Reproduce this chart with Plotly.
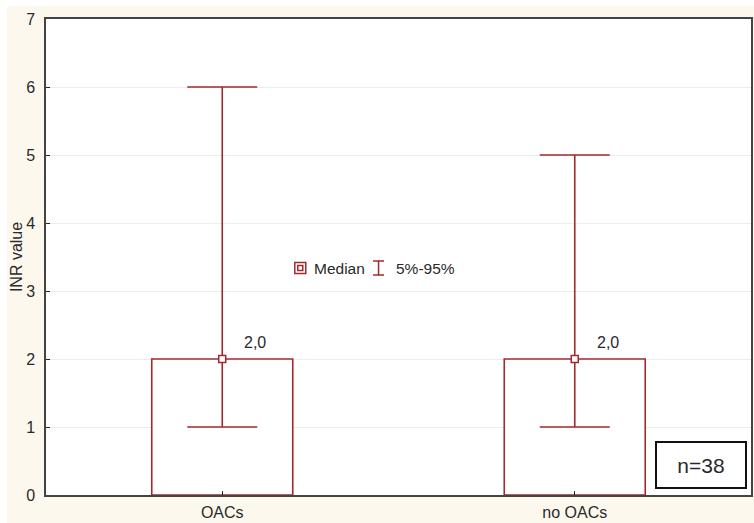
import plotly.graph_objects as go

categories = ["OACs", "no OACs"]
medians = [2.0, 2.0]
p5 = [1.0, 1.0]
p95 = [6.0, 5.0]
n_total = 38

RED = "#A3282E"
CREAM = "#FCF8EE"
FONT = "Liberation Sans, Arial, sans-serif"
TXT = "#2A2A2A"

fig = go.Figure()

fig.add_trace(go.Bar(
    x=categories, y=medians, width=0.4,
    marker=dict(color="white", line=dict(color=RED, width=1.6)),
    error_y=dict(type="data", symmetric=False,
                 array=[h - m for h, m in zip(p95, medians)],
                 arrayminus=[m - l for m, l in zip(medians, p5)],
                 color=RED, thickness=1.6, width=35),
    showlegend=False, hoverinfo="skip",
))
fig.add_trace(go.Scatter(
    x=categories, y=medians, mode="markers",
    marker=dict(symbol="square", size=7, color="white", line=dict(color=RED, width=1.5)),
    showlegend=False, hoverinfo="skip",
))

for c, m in zip(categories, medians):
    fig.add_annotation(x=c, y=m, text=f"{m:.1f}".replace(".", ","), showarrow=False,
                       xshift=33, yshift=17, font=dict(family=FONT, size=16, color=TXT))

def px_x(p):
    return (p - 46) / 707
def px_y(p):
    return (495 - p) / 476

shapes = []
shapes.append(dict(type="rect", xref="paper", yref="paper", x0=px_x(-5), x1=px_x(760),
                   y0=px_y(6), y1=px_y(-5), fillcolor="white", line=dict(width=0), layer="above"))
shapes.append(dict(type="rect", xref="paper", yref="paper", x0=px_x(-5), x1=px_x(7),
                   y0=px_y(530), y1=px_y(-5), fillcolor="white", line=dict(width=0), layer="above"))
shapes.append(dict(type="rect", xref="paper", yref="paper", x0=px_x(295.5), x1=px_x(306.5),
                   y0=px_y(273.5), y1=px_y(262.5), line=dict(color=RED, width=1.5), fillcolor="white"))
shapes.append(dict(type="rect", xref="paper", yref="paper", x0=px_x(298.5), x1=px_x(303.5),
                   y0=px_y(270.5), y1=px_y(265.5), line=dict(color=RED, width=1.5)))
shapes.append(dict(type="line", xref="paper", yref="paper", x0=px_x(379.5), x1=px_x(379.5),
                   y0=px_y(275), y1=px_y(261), line=dict(color=RED, width=1.5)))
shapes.append(dict(type="line", xref="paper", yref="paper", x0=px_x(374), x1=px_x(385),
                   y0=px_y(261), y1=px_y(261), line=dict(color=RED, width=1.5)))
shapes.append(dict(type="line", xref="paper", yref="paper", x0=px_x(374), x1=px_x(385),
                   y0=px_y(275), y1=px_y(275), line=dict(color=RED, width=1.5)))

fig.add_annotation(xref="paper", yref="paper", x=px_x(313), y=px_y(268), xanchor="left", yanchor="middle",
                   text="Median", showarrow=False, font=dict(family=FONT, size=15.5, color=TXT))
fig.add_annotation(xref="paper", yref="paper", x=px_x(395), y=px_y(268), xanchor="left", yanchor="middle",
                   text="5%-95%", showarrow=False, font=dict(family=FONT, size=15.5, color=TXT))

fig.add_annotation(xref="paper", yref="paper", x=px_x(703), y=px_y(465), xanchor="center", yanchor="middle",
                   text=f"n={n_total}", showarrow=False, width=88, height=44, borderpad=0,
                   bordercolor="#111111", borderwidth=2, bgcolor="white",
                   font=dict(family=FONT, size=21, color=TXT))

fig.update_layout(
    width=754, height=523,
    margin=dict(l=46, r=1, t=19, b=28),
    paper_bgcolor=CREAM, plot_bgcolor="white",
    font=dict(family=FONT, size=16, color=TXT),
    shapes=shapes,
)
fig.update_xaxes(range=[-0.5, 1.5], showline=True, linecolor="#444444", linewidth=1.5, mirror=True,
                 ticks="inside", ticklen=4, tickcolor="#222222", showgrid=False,
                 tickfont=dict(size=16), ticklabelstandoff=2)
fig.update_yaxes(range=[0, 7], dtick=1, showline=True, linecolor="#444444", linewidth=1.5, mirror=True,
                 ticks="inside", ticklen=4, tickcolor="#222222", showgrid=True, gridcolor="#EDEDED",
                 gridwidth=1, zeroline=False, tickfont=dict(size=16), ticklabelstandoff=6,
                 title=dict(text="INR value", font=dict(size=16), standoff=0))

fig.write_html("out.html")
